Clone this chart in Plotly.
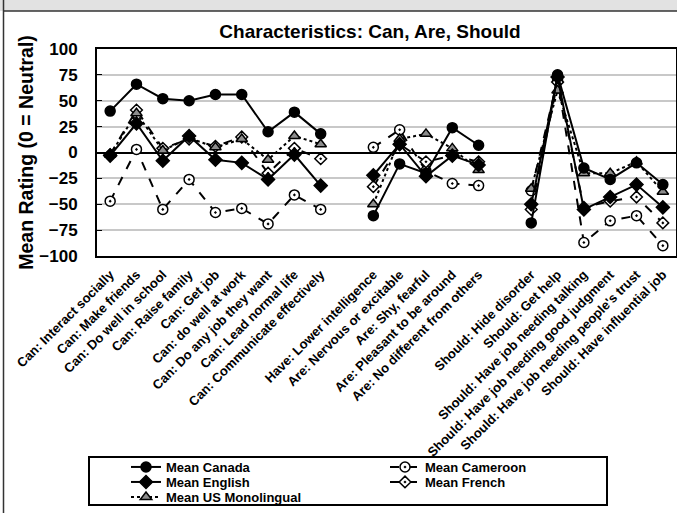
import plotly.graph_objects as go

# ---------------- data ----------------
can_labels = ["Can: Interact socially", "Can: Make friends", "Can: Do well in school",
              "Can: Raise family", "Can: Get job", "Can: do well at work",
              "Can: Do any job they want", "Can: Lead normal life", "Can: Communicate effectively"]
are_labels = ["Have: Lower intelligence", "Are: Nervous or excitable", "Are: Shy, fearful",
              "Are: Pleasant to be around", "Are: No different from others"]
should_labels = ["Should: Hide disorder", "Should: Get help", "Should: Have job needing talking",
                 "Should: Have job needing good judgment", "Should: Have job needing people's trust",
                 "Should: Have influential job"]

canada_can = [40, 66, 52, 50, 56, 56, 20, 39, 18]
canada_are = [-61, -11, -20, 24, 7]
canada_should = [-68, 75, -15, -26, -10, -31]

cameroon_can = [-47, 3, -55, -26, -58, -54, -69, -41, -55]
cameroon_are = [5, 22, -18, -30, -32]
cameroon_should = [-37, 70, -87, -66, -61, -90]

english_can = [-3, 28, -8, 16, -7, -10, -26, -2, -32]
english_are = [-22, 8, -23, -3, -12]
english_should = [-50, 73, -55, -43, -31, -53]

french_can = [-2, 41, 4, 13, 6, 15, -20, 4, -6]
french_are = [-33, 8, -9, -3, -9]
french_should = [-55, 68, -53, -47, -43, -68]

us_can = [-2, 38, 2, 14, 5, 13, -7, 16, 8]
us_are = [-50, 13, 18, 4, -17]
us_should = [-35, 60, -20, -20, -9, -38]

y_ticks = [100, 75, 50, 25, 0, -25, -50, -75, -100]

# ---------------- build category axis with gaps ----------------
groups = [can_labels, are_labels, should_labels]
tick_text = []
for gi, g in enumerate(groups):
    if gi > 0:
        tick_text.append("")
    tick_text.extend(g)
tick_vals = list(range(len(tick_text)))


def join(*parts):
    out = []
    for i, p in enumerate(parts):
        if i > 0:
            out.append(None)
        out.extend(p)
    return out


# ---------------- layout helpers (pixel -> paper) ----------------
W, H = 677, 513
L, R, T, B = 97, 676, 49, 256


def px(x):
    return (x - L) / (R - L)


def py(y):
    return (B - y) / (B - T)


FONT = "Liberation Sans, Arial, sans-serif"

series = [
    dict(name="Mean Canada", y=join(canada_can, canada_are, canada_should),
         dash="solid", symbol="circle", fill="black", size=10, leg="legend", lx=126, ly=467),
    dict(name="Mean Cameroon", y=join(cameroon_can, cameroon_are, cameroon_should),
         dash="dash", symbol="circle-dot", fill="white", size=10, leg="legend2", lx=385, ly=467),
    dict(name="Mean English", y=join(english_can, english_are, english_should),
         dash="solid", symbol="diamond", fill="black", size=10, leg="legend3", lx=126, ly=482),
    dict(name="Mean French", y=join(french_can, french_are, french_should),
         dash="dash", symbol="diamond-dot", fill="white", size=9, leg="legend4", lx=385, ly=482),
    dict(name="Mean US Monolingual", y=join(us_can, us_are, us_should),
         dash="dot", symbol="triangle-up", fill="#8c8c8c", size=10, leg="legend5", lx=126, ly=497),
]

fig = go.Figure()
draw_order = [1, 3, 4, 2, 0]
for idx in draw_order:
    s = series[idx]
    fig.add_trace(go.Scatter(
        x=tick_vals, y=s["y"], name=s["name"], mode="lines+markers",
        connectgaps=False, legend=s["leg"],
        line=dict(color="black", width=2, dash=s["dash"]),
        marker=dict(symbol=s["symbol"], size=s["size"], color=s["fill"],
                    line=dict(color="black", width=1.5)),
    ))

legends = {}
for s in series:
    legends[s["leg"]] = dict(
        orientation="h", x=px(s["lx"]), y=py(s["ly"]), xanchor="left", yanchor="middle",
        xref="paper", yref="paper", itemwidth=30,
        font=dict(size=13, weight="bold", family=FONT),
        bgcolor="rgba(0,0,0,0)", borderwidth=0,
    )

fig.update_layout(
    width=W, height=H,
    margin=dict(l=L, r=W - R, t=T, b=H - B, autoexpand=False),
    paper_bgcolor="white", plot_bgcolor="white",
    font=dict(family=FONT, color="black"),
    title=dict(text="Characteristics: Can, Are, Should", x=px(370), xref="paper",
               xanchor="center", y=1 - 31 / H, yref="container", yanchor="middle",
               font=dict(size=19, weight="bold", family=FONT)),
    showlegend=True,
    **legends,
)

fig.update_xaxes(
    range=[-0.5, len(tick_text) - 0.5], tickmode="array", tickvals=tick_vals,
    ticktext=tick_text, tickangle=-45, showgrid=False, zeroline=False,
    showline=True, mirror=True, linecolor="black", linewidth=2,
    ticks="", ticklabelstandoff=4,
    tickfont=dict(size=13, weight="bold", family=FONT),
)
fig.update_yaxes(
    range=[-100, 100], tickmode="array", tickvals=y_ticks,
    showgrid=True, gridcolor="#c8c8c8", gridwidth=1.5,
    zeroline=True, zerolinecolor="black", zerolinewidth=2,
    showline=True, mirror=True, linecolor="black", linewidth=2,
    ticks="inside", ticklen=5, tickcolor="black", tickwidth=1, ticklabelstandoff=14,
    tickfont=dict(size=17, weight="bold", family=FONT),
    title=dict(text="Mean Rating (0 = Neutral)", standoff=0,
               font=dict(size=19.5, weight="bold", family=FONT)),
)

# ---------------- frame decorations ----------------
shapes = [
    dict(type="rect", xref="paper", yref="paper", x0=px(0), x1=px(W), y0=py(11), y1=py(0),
         fillcolor="#e2e2e2", line=dict(width=0), layer="below"),
    dict(type="line", xref="paper", yref="paper", x0=px(3), x1=px(W), y0=py(11), y1=py(11),
         line=dict(color="#333333", width=1.5)),
    dict(type="line", xref="paper", yref="paper", x0=px(3.5), x1=px(3.5), y0=py(0), y1=py(H),
         line=dict(color="#333333", width=1.5)),
    dict(type="rect", xref="paper", yref="paper", x0=px(89), x1=px(607), y0=py(505), y1=py(457),
         line=dict(color="black", width=2), fillcolor="rgba(0,0,0,0)"),
]
fig.update_layout(shapes=shapes)

fig.write_html("out.html", config={"displayModeBar": False},
               post_script="document.body.style.margin='0';")
